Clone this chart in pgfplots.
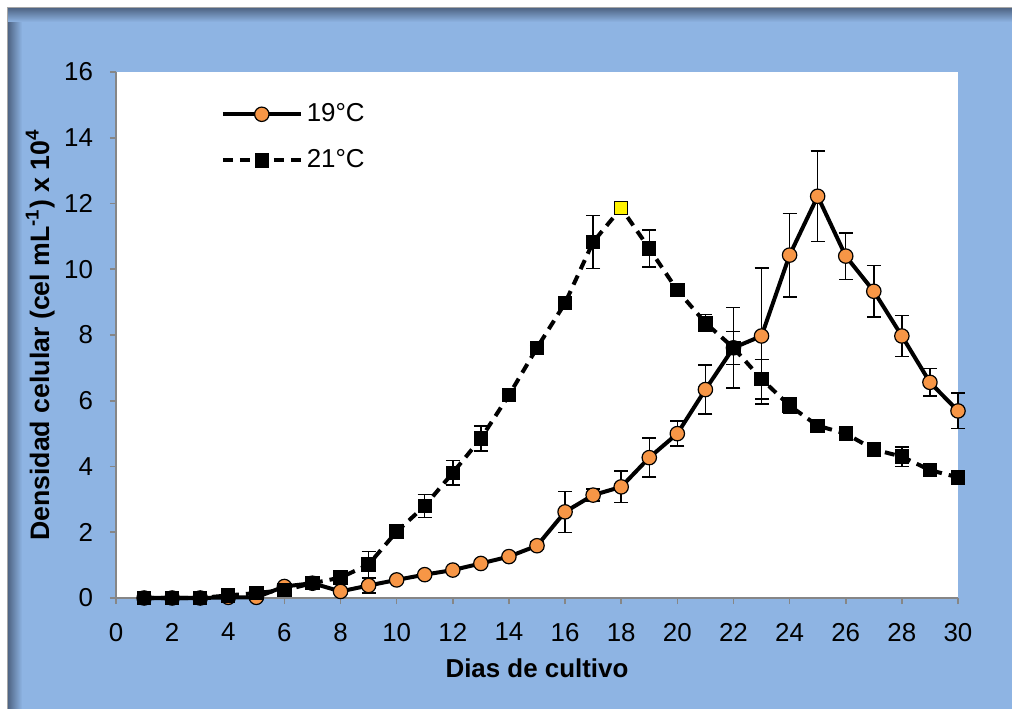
\documentclass[border=0pt]{standalone}
\usepackage{pgfplots}
\pgfplotsset{compat=1.18}
\usepackage{fontspec}
\setmainfont{Liberation Sans}

\definecolor{bgblue}{HTML}{8EB4E3}
\definecolor{shadow}{HTML}{4F6585}
\definecolor{axisgray}{HTML}{868686}
\definecolor{dotorange}{HTML}{F79646}

\begin{document}
\begin{tikzpicture}
% frame behind the chart (1 px = 0.5 bp)
\fill[white] (-58bp,-55.5bp) rectangle (448bp,299bp);
\fill[bgblue] (-54bp,-55.5bp) rectangle (448bp,295bp);
\shade[left color=shadow, right color=bgblue] (-54bp,-55.5bp) rectangle (-47bp,295bp);
\shade[top color=shadow, bottom color=bgblue] (-54bp,288bp) rectangle (448bp,295bp);
\draw[gray!70, line width=0.6bp] (-54.3bp,-55.5bp) -- (-54.3bp,295.3bp) -- (448bp,295.3bp);

\begin{axis}[
    width=421bp, height=263bp, scale only axis,
    xmin=0, xmax=30, ymin=0, ymax=16,
    xtick={0,2,...,30}, ytick={0,2,...,16},
    axis x line*=bottom, axis y line*=left,
    axis line style={axisgray, line width=1bp},
    axis background/.style={fill=white},
    tick style={axisgray, line width=0.8bp},
    tick align=outside, major tick length=3bp,
    /pgf/number format/assume math mode=true,
    ticklabel style={font=\fontsize{13}{15}\selectfont},
    xticklabel style={yshift=-6bp},
    yticklabel style={xshift=-5bp},
    xlabel={Dias de cultivo},
    ylabel={Densidad celular (cel mL\textsuperscript{-1}) x 10\textsuperscript{4}},
    every axis x label/.style={at={(axis description cs:0.5,-0.133)}, anchor=center,
        font=\fontsize{13}{15}\selectfont\bfseries},
    every axis y label/.style={at={(axis description cs:-0.09,0.5)}, rotate=90, anchor=center,
        font=\fontsize{13.4}{15}\selectfont\bfseries},
    clip=false,
    legend style={at={(0.124,0.948)}, anchor=north west, draw=none, fill=none,
        font=\fontsize{13}{15}\selectfont, inner xsep=0pt, inner ysep=0pt,
        row sep=8.5bp},
    legend cell align=left,
    legend image code/.code={\draw[mark repeat=2, mark phase=2]
        plot coordinates {(0bp,0bp) (19.5bp,0bp) (39bp,0bp)};},
    error bars/error bar style={black, solid, line width=0.75bp},
    error bars/error mark options={black, solid, rotate=90, mark size=3.5bp, line width=0.75bp},
]

% 19 C
\addplot[black, line width=2bp, mark=*, mark size=3.6bp,
    mark options={solid, fill=dotorange, draw=black, line width=0.6bp},
    error bars/.cd, y dir=both, y explicit]
coordinates {
(1,0) +- (0,0)
(2,0) +- (0,0)
(3,0) +- (0,0)
(4,0.02) +- (0,0)
(5,0.02) +- (0,0)
(6,0.35) +- (0,0)
(7,0.45) +- (0,0)
(8,0.2) +- (0,0)
(9,0.38) +- (0,0.23)
(10,0.55) +- (0,0.05)
(11,0.71) +- (0,0.04)
(12,0.85) +- (0,0.04)
(13,1.05) +- (0,0.05)
(14,1.26) +- (0,0.05)
(15,1.59) +- (0,0.12)
(16,2.62) +- (0,0.62)
(17,3.13) +- (0,0.18)
(18,3.38) +- (0,0.48)
(19,4.27) +- (0,0.59)
(20,5.0) +- (0,0.38)
(21,6.34) +- (0,0.74)
(22,7.61) +- (0,1.22)
(23,7.97) +- (0,2.07)
(24,10.43) +- (0,1.27)
(25,12.22) +- (0,1.37)
(26,10.40) +- (0,0.71)
(27,9.33) +- (0,0.79)
(28,7.97) +- (0,0.63)
(29,6.56) +- (0,0.42)
(30,5.69) +- (0,0.54)
};
\addlegendentry{19°C}

% 21 C
\addplot[black, line width=2bp, dash pattern=on 5bp off 3.5bp, mark=square*, mark size=3.3bp,
    mark options={solid, fill=black, draw=black, line width=0.6bp},
    error bars/.cd, y dir=both, y explicit]
coordinates {
(1,0) +- (0,0)
(2,0) +- (0,0)
(3,0) +- (0,0)
(4,0.08) +- (0,0)
(5,0.15) +- (0,0)
(6,0.24) +- (0,0)
(7,0.45) +- (0,0)
(8,0.62) +- (0,0.05)
(9,1.02) +- (0,0.39)
(10,2.02) +- (0,0.15)
(11,2.80) +- (0,0.35)
(12,3.81) +- (0,0.38)
(13,4.85) +- (0,0.38)
(14,6.17) +- (0,0.05)
(15,7.61) +- (0,0.05)
(16,8.97) +- (0,0.05)
(17,10.83) +- (0,0.8)
(18,11.86) +- (0,0)
(19,10.63) +- (0,0.56)
(20,9.36) +- (0,0.05)
(21,8.37) +- (0,0.25)
(22,7.61) +- (0,0.5)
(23,6.66) +- (0,0.6)
(24,5.85) +- (0,0.23)
(25,5.24) +- (0,0.15)
(26,5.0) +- (0,0.15)
(27,4.52) +- (0,0.1)
(28,4.3) +- (0,0.3)
(29,3.89) +- (0,0.08)
(30,3.67) +- (0,0.05)
};
\addlegendentry{21°C}

% highlighted peak of 21 C
\addplot[only marks, mark=square*, mark size=3.3bp,
    mark options={fill=yellow, draw=black, line width=0.6bp}, forget plot]
coordinates {(18,11.86)};
\end{axis}

\pgfresetboundingbox
\path[use as bounding box] (-58bp,-55.5bp) rectangle (448bp,299bp);
\end{tikzpicture}
\end{document}
